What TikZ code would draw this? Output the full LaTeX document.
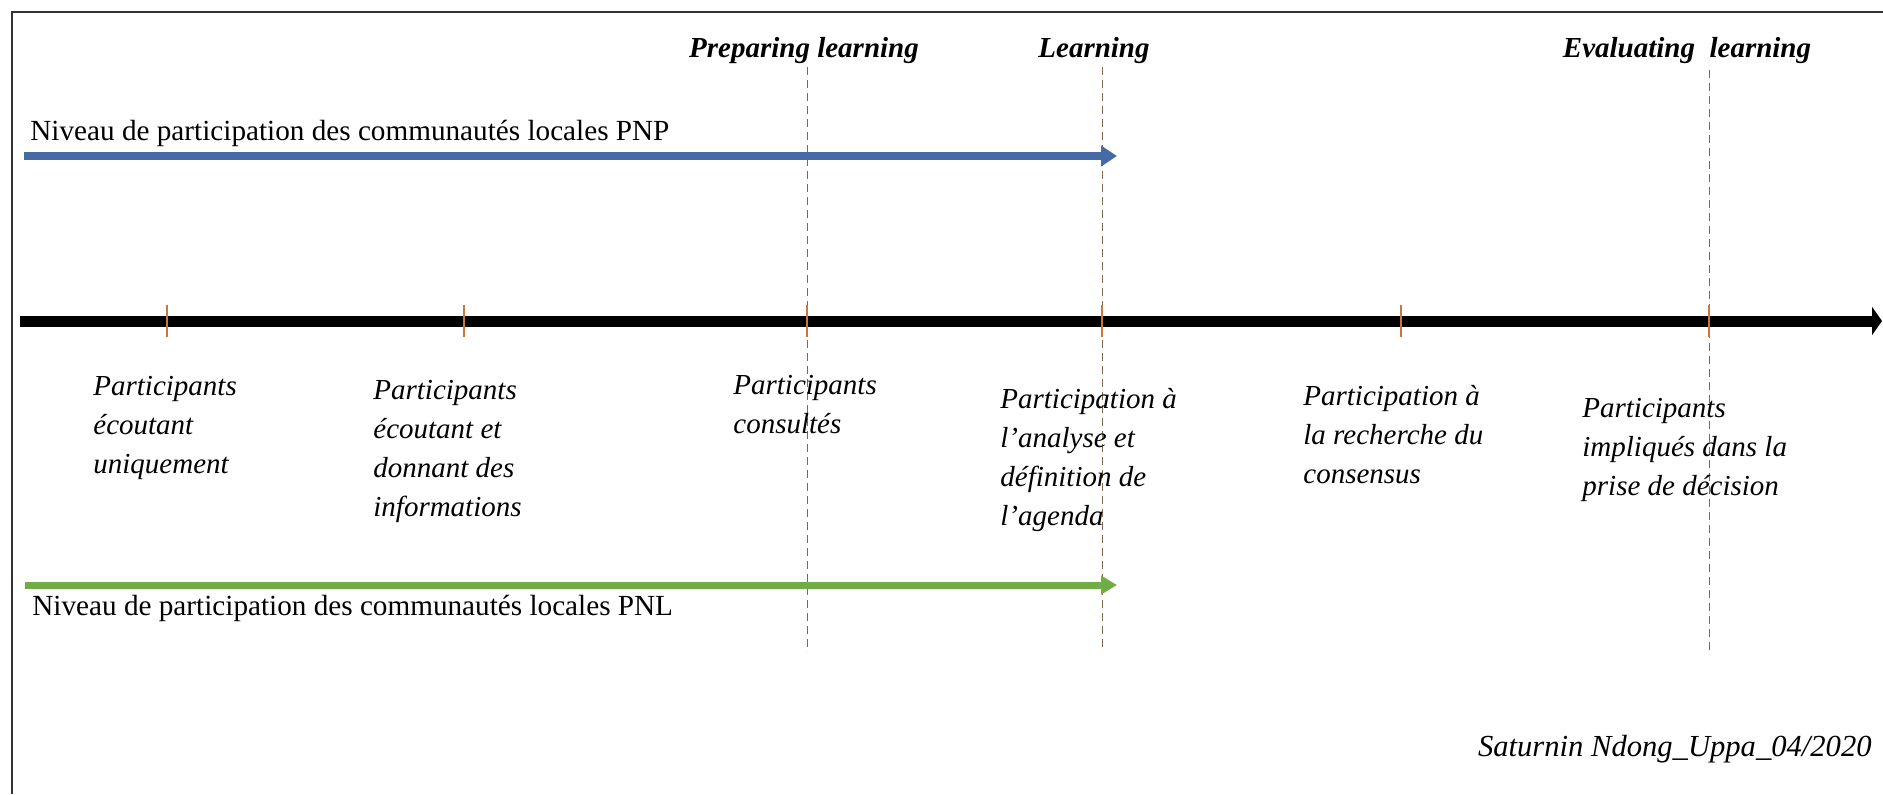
\documentclass[tikz,border=0pt]{standalone}
\usepackage{fontspec}
\setmainfont{Liberation Serif}
\usetikzlibrary{arrows.meta}

\definecolor{pnpblue}{RGB}{70,106,165}
\definecolor{pnlgreen}{RGB}{112,173,71}
\definecolor{tickorange}{RGB}{200,120,60}
\definecolor{phasegray}{RGB}{125,105,75}

\tikzset{
	steplabel/.style={anchor=north west, inner sep=0pt, align=left, font=\fontsize{14.5}{19.5}\selectfont\itshape},
	phase/.style={anchor=base, inner sep=0pt, font=\fontsize{14.5}{17}\selectfont\bfseries\itshape},
	level/.style={anchor=base west, inner sep=0pt, font=\fontsize{14.6}{17}\selectfont},
	tickmark/.style={draw=tickorange, line width=1pt},
	phaseline/.style={draw=phasegray, line width=0.5pt, dash pattern=on 4pt off 2.5pt},
	axisline/.style={line width=5.5pt, -{Triangle[length=5pt,width=14pt]}}
}

\begin{document}
\begin{tikzpicture}[x=0.5pt, y=-0.5pt]
		\useasboundingbox (0,0) rectangle (1883,794);
		% Frame
		\draw[line width=1pt, black!80] (12,794) -- (12,12) -- (1883,12);
		
		% Phases
		\node[phase] (prep) at (804,57) {Preparing learning};
		\node[phase] (learn) at (1094,57) {Learning};
		\node[phase] (eval) at (1687,57) {Evaluating\ \ learning};
		
		\coordinate (preptop) at (807,67);
		\coordinate (prepbot) at (807,652);
		\coordinate (learntop) at (1102,67);
		\coordinate (learnbot) at (1102,652);
		\coordinate (evaltop) at (1709,70);
		\coordinate (evalbot) at (1709,652);
		\draw[phaseline] (preptop) -- (prepbot);
		\draw[phaseline] (learntop) -- (learnbot);
		\draw[phaseline] (evaltop) -- (evalbot);
		
		% Levels PNP and PNL
		\node[level] (pnptext) at (30,140) {Niveau de participation des communautés locales PNP};
		\coordinate (pnpstart) at (24,156);
		\coordinate (pnpend) at (1117,156);
		\draw[line width=4pt, pnpblue, -{Triangle[length=8pt,width=10pt]}] (pnpstart) -- (pnpend);
		
		\coordinate (pnlstart) at (25,585);
		\coordinate (pnlend) at (1117,585);
		\draw[line width=3.5pt, pnlgreen, -{Triangle[length=8pt,width=9pt]}] (pnlstart) -- (pnlend);
		\node[level] (pnltext) at (32,615) {Niveau de participation des communautés locales PNL};
		
		% Draw the axis
		\coordinate (axstart) at (20,321);
		\coordinate (axend) at (1882,321);
		\draw[axisline] (axstart) -- (axend);
		
		\coordinate (t1) at (167,321);
		\coordinate (t2) at (464,321);
		\coordinate (t3) at (807,321);
		\coordinate (t4) at (1102,321);
		\coordinate (t5) at (1401,321);
		\coordinate (t6) at (1709,321);
		\draw[tickmark] (t1) ++(0,-16) -- ++(0,32);
		\draw[tickmark] (t2) ++(0,-16) -- ++(0,32);
		\draw[tickmark] (t3) ++(0,-16) -- ++(0,32);
		\draw[tickmark] (t4) ++(0,-16) -- ++(0,32);
		\draw[tickmark] (t5) ++(0,-16) -- ++(0,32);
		\draw[tickmark] (t6) ++(0,-16) -- ++(0,32);
		
		% Levels of participation
		\node[steplabel] (s1) at (93,376) {Participants\\écoutant\\uniquement};
		\node[steplabel] (s2) at (373,380) {Participants\\écoutant et\\donnant des\\informations};
		\node[steplabel] (s3) at (733,375) {Participants\\consultés};
		\node[steplabel] (s4) at (1000,388) {Participation à\\l’analyse et\\définition de\\l’agenda};
		\node[steplabel] (s5) at (1303,385) {Participation à\\la recherche du\\consensus};
		\node[steplabel] (s6) at (1582,398) {Participants\\impliqués dans la\\prise de décision};
		
		\node[anchor=base east, inner sep=0pt, font=\fontsize{15.3}{18}\selectfont\itshape] (sign) at (1872,756) {Saturnin Ndong\_Uppa\_04/2020};
		
	\end{tikzpicture}
\end{document}
